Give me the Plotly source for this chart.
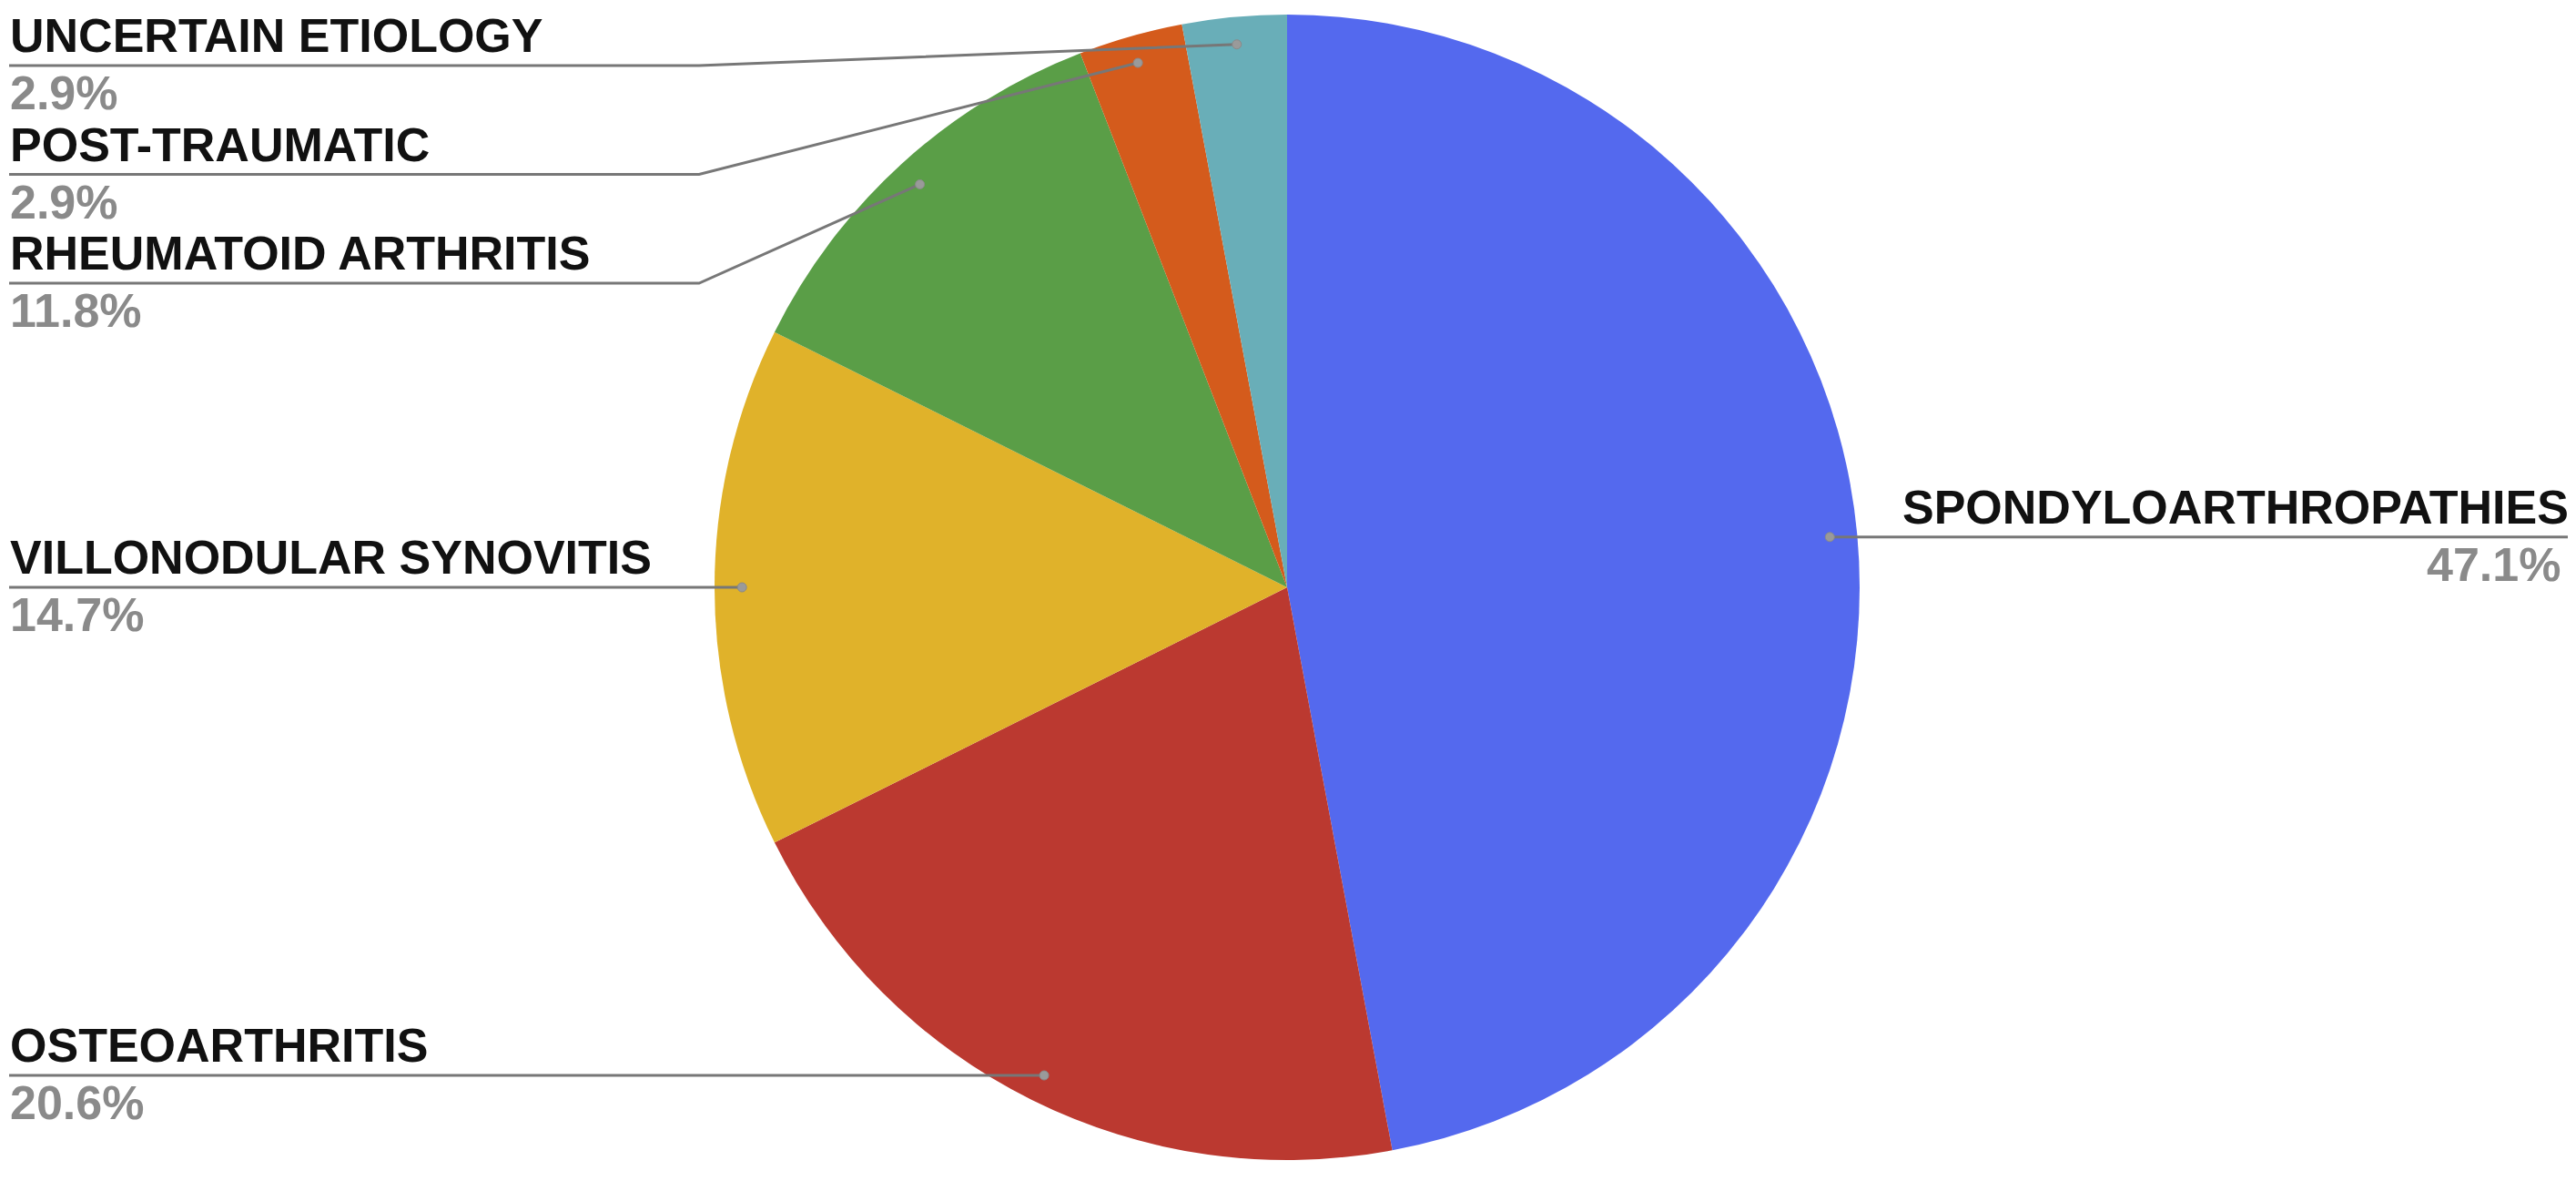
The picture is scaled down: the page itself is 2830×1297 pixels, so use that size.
import math

import plotly.graph_objects as go

categories = [
    "SPONDYLOARTHROPATHIES",
    "OSTEOARTHRITIS",
    "VILLONODULAR SYNOVITIS",
    "RHEUMATOID ARTHRITIS",
    "POST-TRAUMATIC",
    "UNCERTAIN ETIOLOGY",
]
counts = [16, 7, 5, 4, 1, 1]
colors = ["#5469ee", "#bb3930", "#e0b22a", "#5a9e47", "#d45b1c", "#69aeb8"]

W, H = 2830, 1297
OFF = 8  # default body margin of the page
CX, CY, R = 1414, 645, 629
DOT_R = 0.952 * R
LEFT_X, ELBOW_X, RIGHT_X = 10, 768, 2821
FIRST_LINE_Y, LINE_GAP = 72, 119.5
FONT = "Liberation Sans"
LINE_COLOR = "#777777"

total = sum(counts)
pcts = [100.0 * c / total for c in counts]

fig = go.Figure(go.Pie(
    labels=categories,
    values=counts,
    marker=dict(colors=colors, line=dict(width=0)),
    sort=False,
    direction="clockwise",
    rotation=0,
    textinfo="none",
    hoverinfo="label+percent",
    showlegend=False,
    domain=dict(x=[(CX - OFF - R) / W, (CX - OFF + R) / W],
                y=[1 - (CY - OFF + R) / H, 1 - (CY - OFF - R) / H]),
))

# dot position for each slice (mid-angle, clockwise from 12 o'clock)
dots = []
cum = 0
for c in counts:
    mid = (cum + c / 2) / total * 2 * math.pi
    cum += c
    dots.append((CX + DOT_R * math.sin(mid), CY - DOT_R * math.cos(mid), mid))

shapes = []
annotations = []

left = [i for i, d in enumerate(dots) if d[2] > math.pi]
left.sort(key=lambda i: dots[i][1])
prev = FIRST_LINE_Y - LINE_GAP
for i in left:
    dx, dy, _ = dots[i]
    yl = max(dy, prev + LINE_GAP)
    prev = yl
    shapes.append(dict(type="path", xref="x", yref="y", layer="above",
                       path=f"M {LEFT_X} {yl} L {ELBOW_X} {yl} L {dx} {dy}",
                       line=dict(color=LINE_COLOR, width=3)))
    annotations.append(dict(x=OFF + 1, y=yl - 33, text=categories[i], xanchor="left", yanchor="middle",
                            font=dict(family=FONT, size=52, color="#111111", weight="bold")))
    annotations.append(dict(x=OFF + 1, y=yl + 30, text=f"{pcts[i]:.1f}%", xanchor="left", yanchor="middle",
                            font=dict(family=FONT, size=52, color="#8a8a8a", weight="bold")))

for i, d in enumerate(dots):
    if d[2] <= math.pi:
        dx, dy, _ = d
        shapes.append(dict(type="path", xref="x", yref="y", layer="above",
                           path=f"M {dx} {dy} L {RIGHT_X} {dy}",
                           line=dict(color=LINE_COLOR, width=3)))
        annotations.append(dict(x=RIGHT_X + 3, y=dy - 33, text=categories[i], xanchor="right", yanchor="middle",
                                font=dict(family=FONT, size=52, color="#111111", weight="bold")))
        annotations.append(dict(x=RIGHT_X - 6, y=dy + 30, text=f"{pcts[i]:.1f}%", xanchor="right", yanchor="middle",
                                font=dict(family=FONT, size=52, color="#8a8a8a", weight="bold")))

for dx, dy, _ in dots:
    shapes.append(dict(type="circle", xref="x", yref="y", layer="above",
                       x0=dx - 5, x1=dx + 5, y0=dy - 5, y1=dy + 5,
                       fillcolor="#9a9a9a", line=dict(color="#8a8a8a", width=1)))

for a in annotations:
    a.update(xref="x", yref="y", showarrow=False)

fig.update_layout(
    width=W, height=H,
    margin=dict(l=0, r=0, t=0, b=0),
    paper_bgcolor="white", plot_bgcolor="white",
    xaxis=dict(range=[OFF, W + OFF], visible=False, fixedrange=True),
    yaxis=dict(range=[H + OFF, OFF], visible=False, fixedrange=True),
    shapes=shapes,
    annotations=annotations,
)

fig.write_html("out.html")
